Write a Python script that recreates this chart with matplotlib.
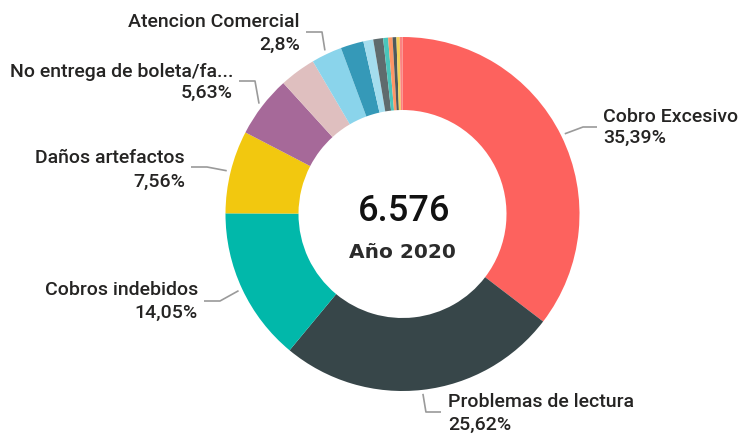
import matplotlib
matplotlib.use('Agg')
import matplotlib.pyplot as plt
import numpy as np

# --- datos ------------------------------------------------
categorias = ['Cobro Excesivo', 'Problemas de lectura', 'Cobros indebidos',
              'Daños artefactos', 'No entrega de boleta/fa...', 'Otro 1',
              'Atencion Comercial', 'Otro 2', 'Otro 3', 'Otro 4', 'Otro 5',
              'Otro 6', 'Otro 7', 'Otro 8', 'Otro 9']
porcentajes = [35.39, 25.62, 14.05, 7.56, 5.63, 3.30, 2.80, 2.10, 0.90,
               0.90, 0.45, 0.40, 0.35, 0.30, 0.25]
etiquetas_pct = ['35,39%', '25,62%', '14,05%', '7,56%', '5,63%', None,
                 '2,8%', None, None, None, None, None, None, None, None]
total = '6.576'
subtitulo = 'Año 2020'

colores = ['#FD625E', '#374649', '#01B8AA', '#F2C80F', '#A66999', '#DFBFBF',
           '#8AD4EB', '#3599B8', '#A4DDEE', '#5F6B6D', '#4AC5BB', '#FE9666',
           '#4E5A5C', '#F4D25A', '#FB8281']

# --- figura (unidades = píxeles, y hacia arriba) ----------
W, H = 743, 435
fig = plt.figure(figsize=(W / 100, H / 100), dpi=100)
ax = fig.add_axes([0, 0, 1, 1])

cx, cy, R = 402.5, H - 215, 177
ax.pie(porcentajes, colors=colores, startangle=90, counterclock=False,
       center=(cx, cy), radius=R, wedgeprops=dict(width=73, linewidth=0))
ax.set_xlim(0, W)
ax.set_ylim(0, H)
ax.set_aspect('equal')
ax.axis('off')

# texto central
ax.text(cx + 2, H - 212, total, ha='center', va='center', fontsize=26,
        family='Roboto', fontweight='medium', color='#111111')
ax.text(cx, H - 253, subtitulo, ha='center', va='center', fontsize=14.5,
        family='DejaVu Sans', fontweight='bold', color='#2b2b2b')

# posición de etiquetas: (x texto, y linea1, y linea2, y guia, lado)  (y hacia abajo)
layout = {
    0: (603, 117, 138, 128, 'left'),
    1: (448, 402, 425, 413, 'bottom'),
    2: (198, 290, 313, 302, 'right'),
    3: (185, 158, 182, 168, 'right'),
    4: (233, 72, 93, 82, 'right'),
    6: (300, 22, 45, 33, 'right'),
}

acum = np.cumsum([0] + porcentajes[:-1])
for i, (tx, y1, y2, yl, lado) in layout.items():
    ang = np.radians(90 - (acum[i] + porcentajes[i] / 2) * 3.6)
    sx, sy = cx + (R + 4) * np.cos(ang), cy + (R + 4) * np.sin(ang)
    if lado == 'left':
        xs = [sx, tx - 20, tx - 6]
        ys = [sy, H - yl, H - yl]
        ha = 'left'
    elif lado == 'bottom':
        xs = [sx, sx + 3, tx - 7]
        ys = [sy, H - yl, H - yl]
        ha = 'left'
    else:
        xs = [sx, tx + 22, tx + 6]
        ys = [sy, H - yl, H - yl]
        ha = 'right'
    ax.plot(xs, ys, color='#9a9a9a', linewidth=1.2, solid_capstyle='butt')
    ax.text(tx, H - y1, categorias[i], ha=ha, va='center', fontsize=14,
            family='Roboto', fontweight='medium', color='#252423')
    ax.text(tx, H - y2, etiquetas_pct[i], ha=ha, va='center', fontsize=14,
            family='Roboto', fontweight='medium', color='#252423')

fig.savefig('out.png', dpi=100, facecolor='white')
